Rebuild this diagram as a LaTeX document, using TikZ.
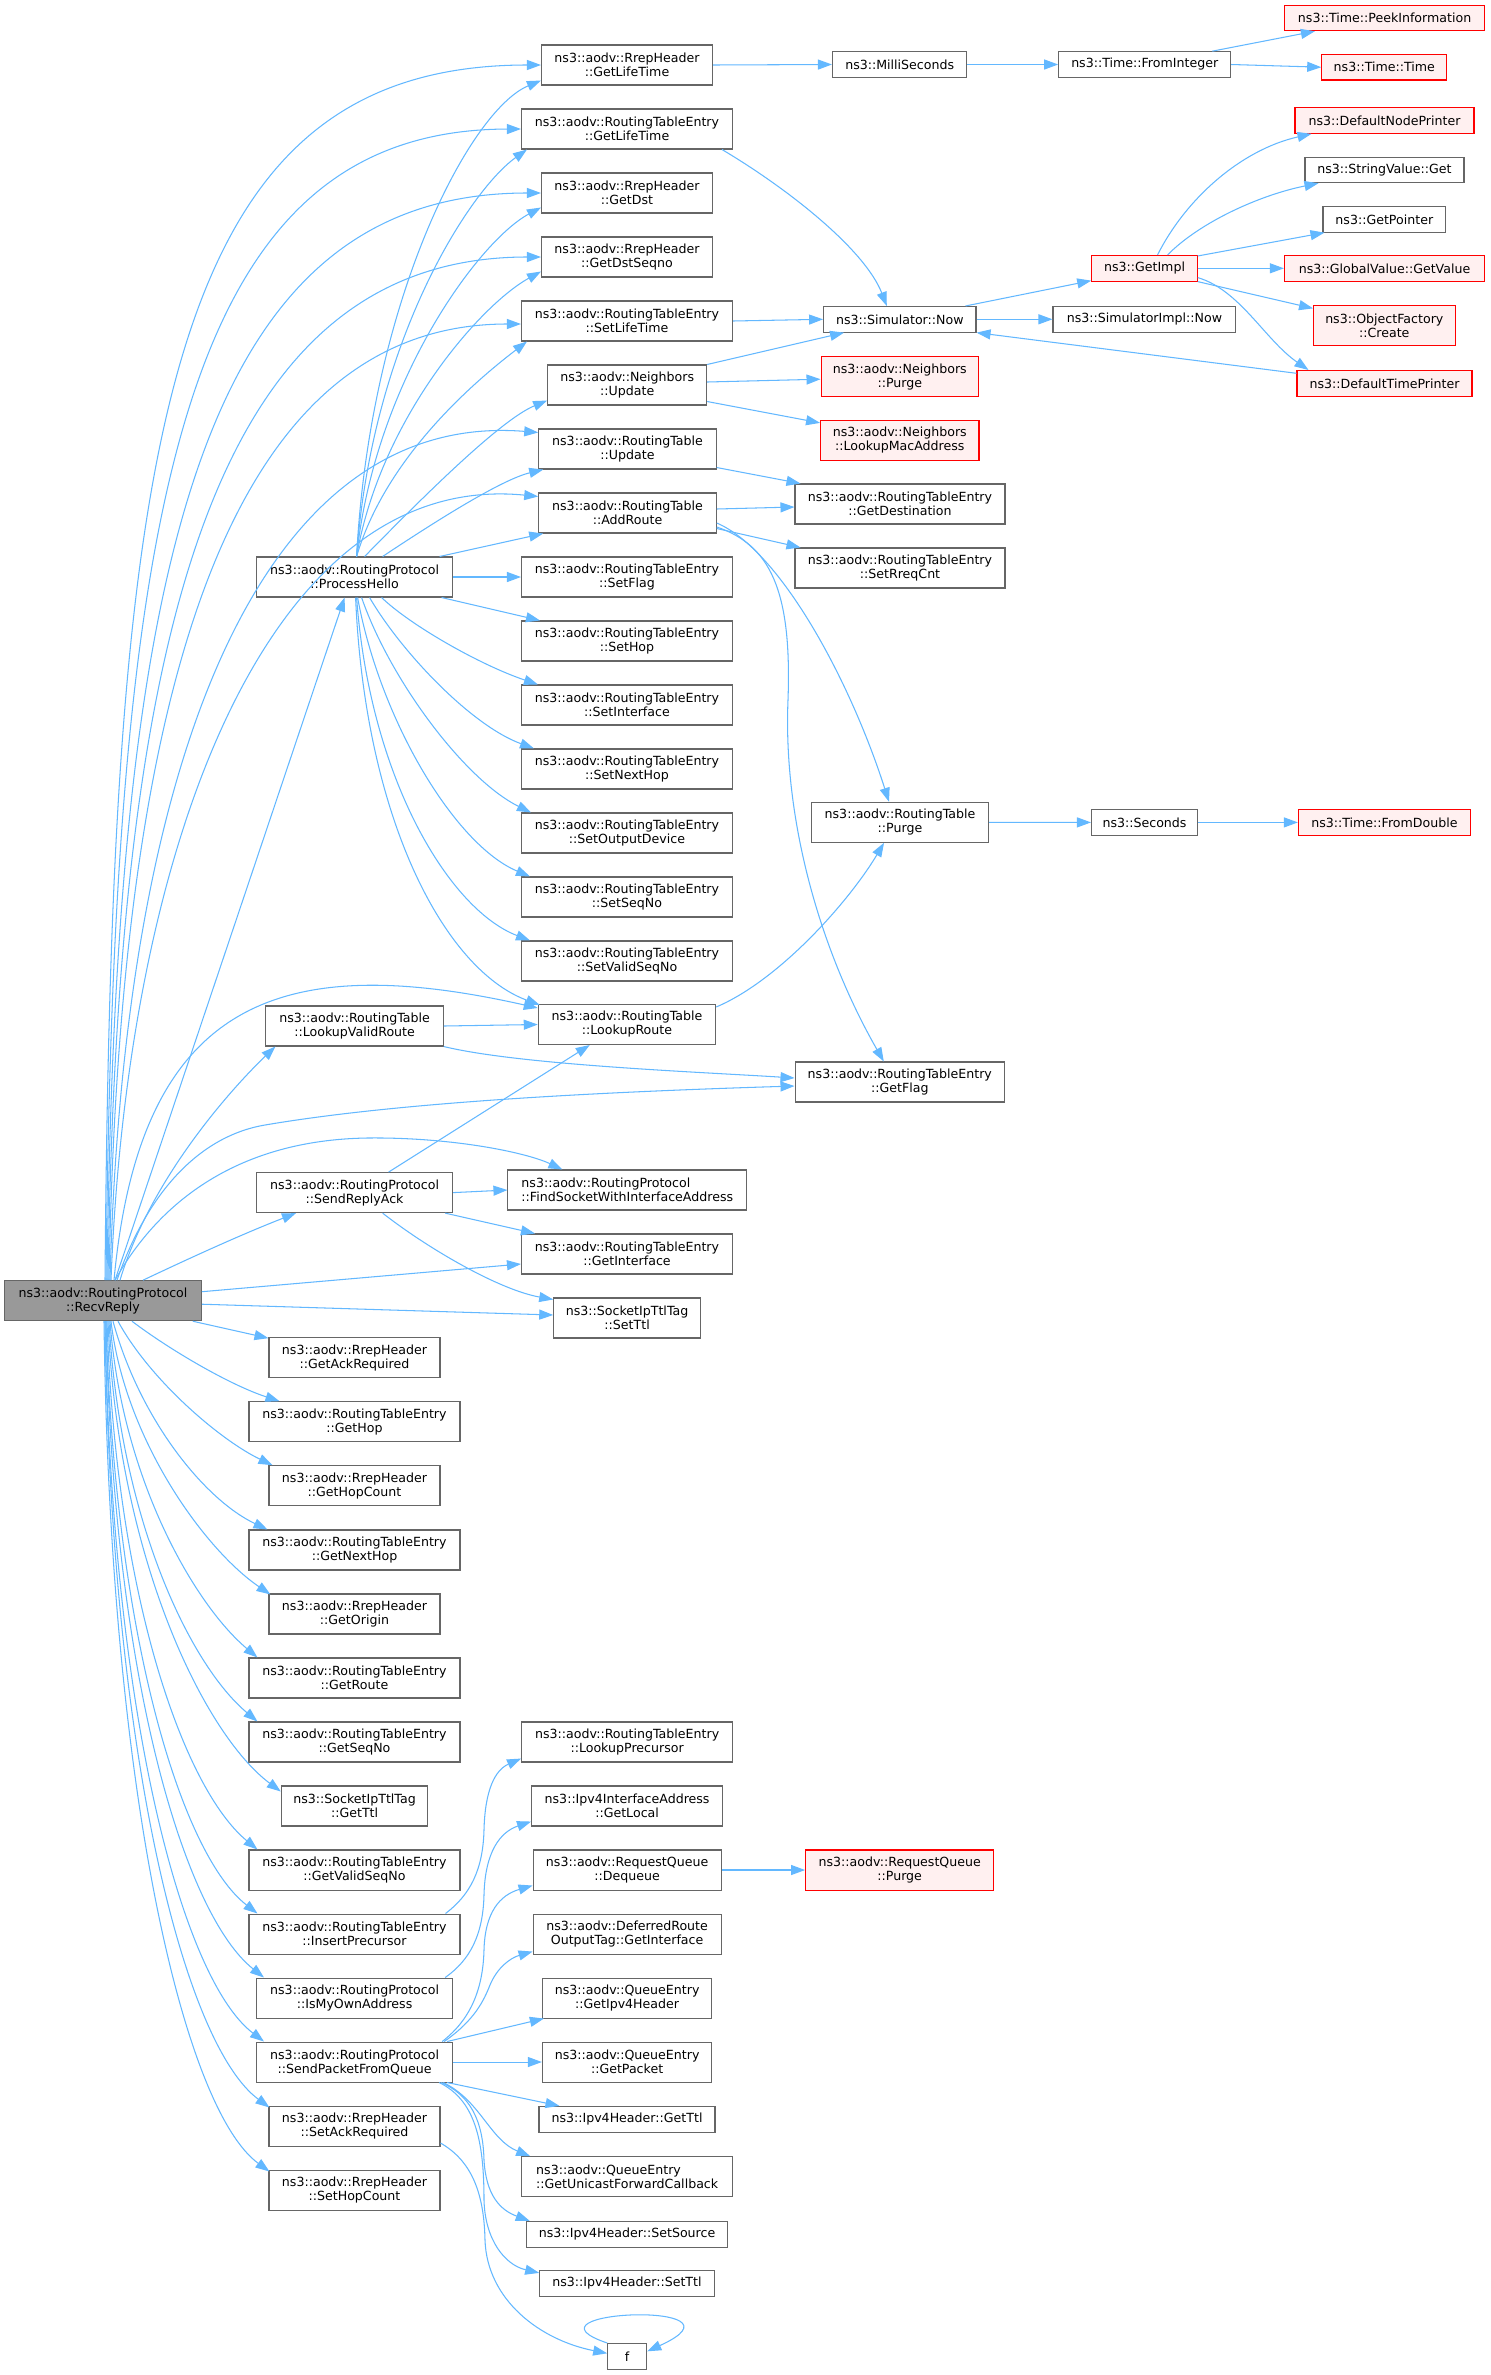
\documentclass[tikz,border=0pt]{standalone}
\usepackage{fontspec}
\setmainfont{DejaVu Sans}
\usetikzlibrary{arrows.meta,calc}
\definecolor{edgec}{HTML}{63B8FF}
\definecolor{boxc}{HTML}{666666}
\definecolor{redfill}{HTML}{FFF0F0}
\definecolor{mainfill}{HTML}{999999}
\tikzset{
  nbox/.style={draw=boxc, line width=1.05pt, fill=white, inner sep=0pt, align=center,
    font=\fontsize{12.6}{14}\selectfont},
  rbox/.style={nbox, draw=red, fill=redfill},
  mbox/.style={nbox, fill=mainfill},
  two/.style={minimum height=40pt},
  one/.style={minimum height=25.6pt},
  edg/.style={draw=edgec, line width=1.05pt, -{Triangle[length=14pt,width=10pt]}},
}
\newcommand{\bx}[6]{\node[#1, minimum width=#2pt] (#3) at (#4,#5) {#6};}
\begin{document}
\begin{tikzpicture}[x=1pt,y=-1pt]
\fill[white] (0,0) rectangle (1491,2375);
\useasboundingbox (0,0) rectangle (1491,2375);

% ---------- column 1 / 2 ----------
\bx{mbox,two}{196.6}{recv}{103}{1300.7}{ns3::aodv::RoutingProtocol\\::RecvReply}
\bx{nbox,two}{196.2}{ph}{354.6}{577}{ns3::aodv::RoutingProtocol\\::ProcessHello}
\bx{nbox,two}{177.4}{tlvr}{354.6}{1026}{ns3::aodv::RoutingTable\\::LookupValidRoute}
\bx{nbox,two}{196.2}{psra}{354.6}{1192.6}{ns3::aodv::RoutingProtocol\\::SendReplyAck}
\bx{nbox,two}{171}{rgar}{354.5}{1357.7}{ns3::aodv::RrepHeader\\::GetAckRequired}
\bx{nbox,two}{211}{egh}{354.5}{1421.7}{ns3::aodv::RoutingTableEntry\\::GetHop}
\bx{nbox,two}{171}{rghc}{354.5}{1485.7}{ns3::aodv::RrepHeader\\::GetHopCount}
\bx{nbox,two}{211}{egnh}{354.5}{1550}{ns3::aodv::RoutingTableEntry\\::GetNextHop}
\bx{nbox,two}{171}{rgo}{354.5}{1614}{ns3::aodv::RrepHeader\\::GetOrigin}
\bx{nbox,two}{211}{egr}{354.5}{1678}{ns3::aodv::RoutingTableEntry\\::GetRoute}
\bx{nbox,two}{211}{egsn}{354.5}{1742}{ns3::aodv::RoutingTableEntry\\::GetSeqNo}
\bx{nbox,two}{146.6}{sgt}{354.6}{1806}{ns3::SocketIpTtlTag\\::GetTtl}
\bx{nbox,two}{211}{egvs}{354.5}{1870}{ns3::aodv::RoutingTableEntry\\::GetValidSeqNo}
\bx{nbox,two}{211}{eip}{354.5}{1934}{ns3::aodv::RoutingTableEntry\\::InsertPrecursor}
\bx{nbox,two}{196.2}{pimo}{354.6}{1998}{ns3::aodv::RoutingProtocol\\::IsMyOwnAddress}
\bx{nbox,two}{196.2}{pspq}{354.6}{2062}{ns3::aodv::RoutingProtocol\\::SendPacketFromQueue}
\bx{nbox,two}{171}{rsar}{354.5}{2126}{ns3::aodv::RrepHeader\\::SetAckRequired}
\bx{nbox,two}{171}{rshc}{354.5}{2190}{ns3::aodv::RrepHeader\\::SetHopCount}

% ---------- column 3 ----------
\bx{nbox,two}{171}{rglt}{627}{65}{ns3::aodv::RrepHeader\\::GetLifeTime}
\bx{nbox,two}{211}{eglt}{627}{129}{ns3::aodv::RoutingTableEntry\\::GetLifeTime}
\bx{nbox,two}{171}{rgd}{627}{193}{ns3::aodv::RrepHeader\\::GetDst}
\bx{nbox,two}{171}{rgds}{627}{257}{ns3::aodv::RrepHeader\\::GetDstSeqno}
\bx{nbox,two}{211}{eslt}{627}{321}{ns3::aodv::RoutingTableEntry\\::SetLifeTime}
\bx{nbox,two}{159}{nup}{627.2}{385}{ns3::aodv::Neighbors\\::Update}
\bx{nbox,two}{177.5}{tup}{627.5}{449}{ns3::aodv::RoutingTable\\::Update}
\bx{nbox,two}{177.5}{tar}{627.5}{513}{ns3::aodv::RoutingTable\\::AddRoute}
\bx{nbox,two}{211}{esf}{627}{577}{ns3::aodv::RoutingTableEntry\\::SetFlag}
\bx{nbox,two}{211}{esh}{627}{641}{ns3::aodv::RoutingTableEntry\\::SetHop}
\bx{nbox,two}{211}{esi}{627}{705}{ns3::aodv::RoutingTableEntry\\::SetInterface}
\bx{nbox,two}{211}{esnh}{627}{769}{ns3::aodv::RoutingTableEntry\\::SetNextHop}
\bx{nbox,two}{211}{esod}{627}{833}{ns3::aodv::RoutingTableEntry\\::SetOutputDevice}
\bx{nbox,two}{211}{essn}{627}{897}{ns3::aodv::RoutingTableEntry\\::SetSeqNo}
\bx{nbox,two}{211}{esvs}{627}{961}{ns3::aodv::RoutingTableEntry\\::SetValidSeqNo}
\bx{nbox,two}{177.4}{tlr}{627}{1024.5}{ns3::aodv::RoutingTable\\::LookupRoute}
\bx{nbox,two,align=left}{238.7}{pfs}{627.3}{1190}{ns3::aodv::RoutingProtocol\\::FindSocketWithInterfaceAddress}
\bx{nbox,two}{211}{egi}{627}{1254}{ns3::aodv::RoutingTableEntry\\::GetInterface}
\bx{nbox,two}{146.7}{sst}{627.1}{1318}{ns3::SocketIpTtlTag\\::SetTtl}
\bx{nbox,two}{211}{elp}{627.1}{1742}{ns3::aodv::RoutingTableEntry\\::LookupPrecursor}
\bx{nbox,two}{191}{igl}{627.1}{1806}{ns3::Ipv4InterfaceAddress\\::GetLocal}
\bx{nbox,two}{188}{rqd}{627.1}{1870}{ns3::aodv::RequestQueue\\::Dequeue}
\bx{nbox,two}{188}{dgi}{627.1}{1934}{ns3::aodv::DeferredRoute\\OutputTag::GetInterface}
\bx{nbox,two}{169.4}{qgh}{627.1}{1998}{ns3::aodv::QueueEntry\\::GetIpv4Header}
\bx{nbox,two}{169.4}{qgp}{627.1}{2062}{ns3::aodv::QueueEntry\\::GetPacket}
\bx{nbox,one}{176}{hgt}{627}{2119.2}{ns3::Ipv4Header::GetTtl}
\bx{nbox,two,align=left}{211}{qguf}{627.2}{2176.7}{ns3::aodv::QueueEntry\\::GetUnicastForwardCallback}
\bx{nbox,one}{201.7}{hss}{627.1}{2234.2}{ns3::Ipv4Header::SetSource}
\bx{nbox,one}{174.6}{hst}{627}{2283.2}{ns3::Ipv4Header::SetTtl}
\bx{nbox,one}{39}{f}{627.2}{2356.3}{f}

% ---------- column 4 ----------
\bx{nbox,one}{134.5}{ms}{899.7}{64.5}{ns3::MilliSeconds}
\bx{nbox,one}{152.4}{sn}{899.8}{319.3}{ns3::Simulator::Now}
\bx{rbox,two}{157.5}{np}{899.8}{376.7}{ns3::aodv::Neighbors\\::Purge}
\bx{rbox,two}{158.4}{nlm}{899.8}{440.4}{ns3::aodv::Neighbors\\::LookupMacAddress}
\bx{nbox,two}{210}{egd}{900}{504}{ns3::aodv::RoutingTableEntry\\::GetDestination}
\bx{nbox,two}{210}{esrc}{900}{568}{ns3::aodv::RoutingTableEntry\\::SetRreqCnt}
\bx{nbox,two}{177}{tp}{900}{822.3}{ns3::aodv::RoutingTable\\::Purge}
\bx{nbox,two}{209.5}{egf}{899.8}{1082}{ns3::aodv::RoutingTableEntry\\::GetFlag}
\bx{rbox,two}{188.2}{rqp}{899.7}{1870}{ns3::aodv::RequestQueue\\::Purge}

% ---------- column 5 / 6 ----------
\bx{nbox,one}{172}{tfi}{1144.7}{64.5}{ns3::Time::FromInteger}
\bx{rbox,one}{105.5}{gi}{1144.5}{268.3}{ns3::GetImpl}
\bx{nbox,one}{182.8}{sin}{1144.4}{319.3}{ns3::SimulatorImpl::Now}
\bx{nbox,one}{106}{sec}{1144.5}{822.4}{ns3::Seconds}
\bx{rbox,one}{200.4}{tpi}{1384.6}{17.9}{ns3::Time::PeekInformation}
\bx{rbox,one}{125.2}{tt}{1384.3}{67.2}{ns3::Time::Time}
\bx{rbox,one}{179}{dnp}{1384.5}{120.5}{ns3::DefaultNodePrinter}
\bx{nbox,one}{159}{svg}{1384.5}{169.9}{ns3::StringValue::Get}
\bx{nbox,one}{122.6}{gp}{1384.3}{219.3}{ns3::GetPointer}
\bx{rbox,one}{200.4}{ggv}{1384.6}{268.3}{ns3::GlobalValue::GetValue}
\bx{rbox,two}{141.5}{ofc}{1384.3}{325.9}{ns3::ObjectFactory\\::Create}
\bx{rbox,one}{175}{dtp}{1384.5}{383.3}{ns3::DefaultTimePrinter}
\bx{rbox,one}{172}{tfd}{1384.4}{822.4}{ns3::Time::FromDouble}

% ================= edges from RecvReply =================
\draw[edg] ($(recv.north)+(2,0)$) .. controls (112,430) and (165,65) .. (rglt.west);
\draw[edg] ($(recv.north)+(3,0)$) .. controls (114,490) and (185,130) .. (eglt.west);
\draw[edg] ($(recv.north)+(4,0)$) .. controls (116,550) and (205,193) .. (rgd.west);
\draw[edg] ($(recv.north)+(5,0)$) .. controls (118,610) and (220,257) .. (rgds.west);
\draw[edg] ($(recv.north)+(6,0)$) .. controls (120,670) and (235,324) .. ($(eslt.west)+(0,3)$);
\draw[edg] ($(recv.north)+(7,0)$) .. controls (124,760) and (260,410) .. ($(tup.north west)+(0,4)$);
\draw[edg] ($(recv.north)+(8,0)$) .. controls (128,840) and (270,470) .. ($(tar.north west)+(0,4)$);
\draw[edg] ($(recv.north)+(12,0)$) -- ($(ph.south)+(-10,0)$);
\draw[edg] ($(recv.north)+(11,0)$) .. controls (140,1000) and (280,950) .. ($(tlr.north west)+(0,4)$);
\draw[edg] ($(recv.north)+(17,0)$) .. controls (150,1180) and (230,1090) .. ($(tlvr.south west)+(10,0)$);
\draw[edg] ($(recv.north)+(14,0)$) .. controls (150,1185) and (205,1135) .. (265,1125)
   .. controls (400,1102) and (600,1092) .. ($(egf.west)+(0,4)$);
\draw[edg] ($(recv.north)+(12,0)$) .. controls (160,1200) and (240,1140) .. (367,1138)
   .. controls (450,1137) and (525,1152) .. ($(pfs.north west)+(55,0)$);
\draw[edg] ($(recv.north)+(40,0)$) .. controls (190,1258) and (240,1235) .. ($(psra.south west)+(40,0)$);
\draw[edg] ($(recv.east)+(0,-9)$) -- ($(egi.west)+(0,10)$);
\draw[edg] ($(recv.east)+(0,3.5)$) -- ($(sst.west)+(0,-3)$);
\draw[edg] ($(recv.south east)+(-9,0)$) -- ($(rgar.north west)+(0,1)$);
\draw[edg] ($(recv.south)+(29,0)$) .. controls (170,1350) and (230,1385) .. ($(egh.north west)+(31,0)$);
\draw[edg] ($(recv.south)+(15,0)$) .. controls (150,1380) and (220,1440) .. ($(rghc.north west)+(4,0)$);
\draw[edg] ($(recv.south)+(10,0)$) .. controls (140,1420) and (205,1500) .. ($(egnh.north west)+(19,0)$);
\draw[edg] ($(recv.south)+(8,0)$) .. controls (125,1440) and (205,1550) .. ($(rgo.north west)+(2,1)$);
\draw[edg] ($(recv.south)+(7,0)$) .. controls (122,1480) and (195,1605) .. ($(egr.north west)+(9,0)$);
\draw[edg] ($(recv.south)+(6,0)$) .. controls (120,1520) and (190,1665) .. ($(egsn.north west)+(9,0)$);
\draw[edg] ($(recv.south)+(5,0)$) .. controls (118,1560) and (205,1735) .. ($(sgt.north west)+(0,6)$);
\draw[edg] ($(recv.south)+(4,0)$) .. controls (116,1600) and (185,1790) .. ($(egvs.north west)+(9,0)$);
\draw[edg] ($(recv.south)+(3,0)$) .. controls (115,1640) and (182,1855) .. ($(eip.north west)+(9,0)$);
\draw[edg] ($(recv.south)+(3,0)$) .. controls (113,1680) and (185,1915) .. ($(pimo.north west)+(8,0)$);
\draw[edg] ($(recv.south)+(2,0)$) .. controls (112,1720) and (183,1980) .. ($(pspq.north west)+(8,0)$);
\draw[edg] ($(recv.south)+(2,0)$) .. controls (111,1760) and (185,2045) .. ($(rsar.north west)+(1,2)$);
\draw[edg] ($(recv.south)+(1,0)$) .. controls (110,1800) and (185,2110) .. ($(rshc.north west)+(1,2)$);

% ================= edges from ProcessHello =================
\draw[edg] ($(ph.north)+(2,0)$) .. controls (370,300) and (470,110) .. ($(rglt.south west)+(0,-5)$);
\draw[edg] ($(ph.north)+(2,0)$) .. controls (372,340) and (470,190) .. ($(eglt.south west)+(6,0)$);
\draw[edg] ($(ph.north)+(2,0)$) .. controls (375,380) and (480,240) .. ($(rgd.south west)+(0,-6)$);
\draw[edg] ($(ph.north)+(2,0)$) .. controls (380,420) and (480,305) .. ($(rgds.south west)+(0,-6)$);
\draw[edg] ($(ph.north)+(2,0)$) .. controls (385,460) and (470,385) .. ($(eslt.south west)+(6,0)$);
\draw[edg] ($(ph.north)+(10,0)$) .. controls (420,500) and (500,420) .. ($(nup.south west)+(0,-5)$);
\draw[edg] ($(ph.north)+(28,0)$) .. controls (430,525) and (500,480) .. ($(tup.south west)+(5,0)$);
\draw[edg] ($(ph.north)+(85,0)$) -- ($(tar.south west)+(5,0)$);
\draw[edg] (ph.east) -- (esf.west);
\draw[edg] ($(ph.south)+(87,0)$) -- ($(esh.north west)+(19,0)$);
\draw[edg] ($(ph.south)+(27,0)$) .. controls (410,625) and (480,665) .. ($(esi.north west)+(17,0)$);
\draw[edg] ($(ph.south)+(15,0)$) .. controls (400,650) and (470,725) .. ($(esnh.north west)+(13,0)$);
\draw[edg] ($(ph.south)+(7,0)$) .. controls (390,680) and (465,780) .. ($(esod.north west)+(10,0)$);
\draw[edg] ($(ph.south)+(3,0)$) .. controls (380,720) and (455,845) .. ($(essn.north west)+(9,0)$);
\draw[edg] ($(ph.south)+(2,0)$) .. controls (370,780) and (450,910) .. ($(esvs.north west)+(9,0)$);
\draw[edg] ($(ph.south)+(1,0)$) .. controls (365,820) and (445,970) .. ($(tlr.north west)+(2,1)$);

% ================= other edges =================
\draw[edg] (rglt.east) -- (ms.west);
\draw[edg] (ms.east) -- (tfi.west);
\draw[edg] ($(tfi.north east)+(-19,0)$) -- ($(tpi.south west)+(31,0)$);
\draw[edg] (tfi.east) -- (tt.west);
\draw[edg] ($(eglt.south east)+(-11,0)$) .. controls (790,190) and (865,250) .. ($(sn.north)+(-13,0)$);
\draw[edg] (eslt.east) -- (sn.west);
\draw[edg] (nup.north east) -- ($(sn.south west)+(21,0)$);
\draw[edg] ($(nup.east)+(0,-3)$) -- ($(np.west)+(0,2.5)$);
\draw[edg] ($(nup.south east)+(0,-4)$) -- ($(nlm.north west)+(0,3)$);
\draw[edg] ($(sn.north east)+(-11,0)$) -- ($(gi.south west)+(0,-1)$);
\draw[edg] (sn.east) -- (sin.west);
\draw[edg] ($(gi.north)+(13,0)$) .. controls (1185,200) and (1240,150) .. ($(dnp.south west)+(17,0)$);
\draw[edg] ($(gi.north)+(23,0)$) .. controls (1200,222) and (1260,195) .. ($(svg.south west)+(14,0)$);
\draw[edg] ($(gi.north east)+(0,1)$) -- ($(gp.south west)+(2,0)$);
\draw[edg] (gi.east) -- (ggv.west);
\draw[edg] (gi.south east) -- ($(ofc.north west)+(0,3)$);
\draw[edg] ($(gi.south east)+(0,-4)$) .. controls (1240,290) and (1265,340) .. ($(dtp.north west)+(12,0)$);
\draw[edg] ($(dtp.west)+(0,-10)$) -- (sn.south east);
\draw[edg] ($(tup.south east)+(0,-2)$) -- ($(egd.north west)+(6,0)$);
\draw[edg] ($(tar.east)+(0,-4)$) -- ($(egd.west)+(0,3)$);
\draw[edg] ($(tar.south east)+(0,-5)$) -- ($(esrc.north west)+(6,0)$);
\draw[edg] ($(tar.east)+(0,10)$) .. controls (780,550) and (850,680) .. ($(tp.north)+(-11,0)$);
\draw[edg] ($(tar.east)+(0,14)$) .. controls (770,545) and (792,590) .. (788,700)
   .. controls (783,820) and (820,950) .. ($(egf.north)+(-16,0)$);
\draw[edg] (tp.east) -- (sec.west);
\draw[edg] (sec.east) -- (tfd.west);
\draw[edg] ($(tlr.north east)+(0,3)$) .. controls (780,980) and (850,900) .. ($(tp.south)+(-16,0)$);
\draw[edg] (tlvr.east) -- (tlr.west);
\draw[edg] (tlvr.south east) .. controls (520,1065) and (700,1072) .. ($(egf.west)+(0,-4)$);
\draw[edg] ($(psra.north)+(34,0)$) -- ($(tlr.south west)+(52,0)$);
\draw[edg] (psra.east) -- (pfs.west);
\draw[edg] ($(psra.south east)+(-8,0)$) -- ($(egi.north west)+(14,0)$);
\draw[edg] ($(psra.south)+(28,0)$) .. controls (430,1250) and (500,1290) .. ($(sst.north west)+(0,2)$);
\draw[edg] ($(eip.north east)+(-15,0)$) .. controls (470,1895) and (483,1870) .. (484,1830)
   .. controls (485,1790) and (495,1770) .. ($(elp.south west)+(0,-4)$);
\draw[edg] ($(pimo.north east)+(-8,0)$) .. controls (470,1960) and (483,1935) .. (484,1895)
   .. controls (485,1852) and (500,1832) .. ($(igl.south west)+(0,-5)$);
\draw[edg] ($(pspq.north east)+(-11,0)$) .. controls (470,2020) and (483,1990) .. (484,1950)
   .. controls (485,1912) and (500,1895) .. ($(rqd.south west)+(0,-5)$);
\draw[edg] ($(pspq.north east)+(-9,0)$) .. controls (475,2020) and (484,2000) .. (490,1985)
   .. controls (497,1968) and (510,1958) .. ($(dgi.south west)+(0,-3)$);
\draw[edg] ($(pspq.north east)+(-6,0)$) -- ($(qgh.south west)+(2,0)$);
\draw[edg] (pspq.east) -- (qgp.west);
\draw[edg] ($(pspq.south east)+(-6,0)$) -- ($(hgt.north west)+(21,0)$);
\draw[edg] ($(pspq.south east)+(-10,0)$) .. controls (480,2100) and (490,2140) .. ($(qguf.north west)+(9,0)$);
\draw[edg] ($(pspq.south east)+(-12,0)$) .. controls (470,2095) and (483,2120) .. (484,2160)
   .. controls (486,2195) and (500,2210) .. ($(hss.north west)+(4,0)$);
\draw[edg] ($(pspq.south east)+(-14,0)$) .. controls (475,2100) and (484,2140) .. (484,2200)
   .. controls (485,2240) and (505,2265) .. ($(hst.north west)+(0,3)$);
\draw[edg] ($(rsar.east)+(0,17)$) .. controls (470,2160) and (484,2190) .. (485,2240)
   .. controls (487,2300) and (540,2340) .. ($(f.west)+(0,-3)$);
\draw[edg] (rqd.east) -- (rqp.west);
\draw[edg] (f.north west) .. controls (510,2310) and (760,2300) .. ($(f.east)+(0,-5)$);
\end{tikzpicture}
\end{document}
